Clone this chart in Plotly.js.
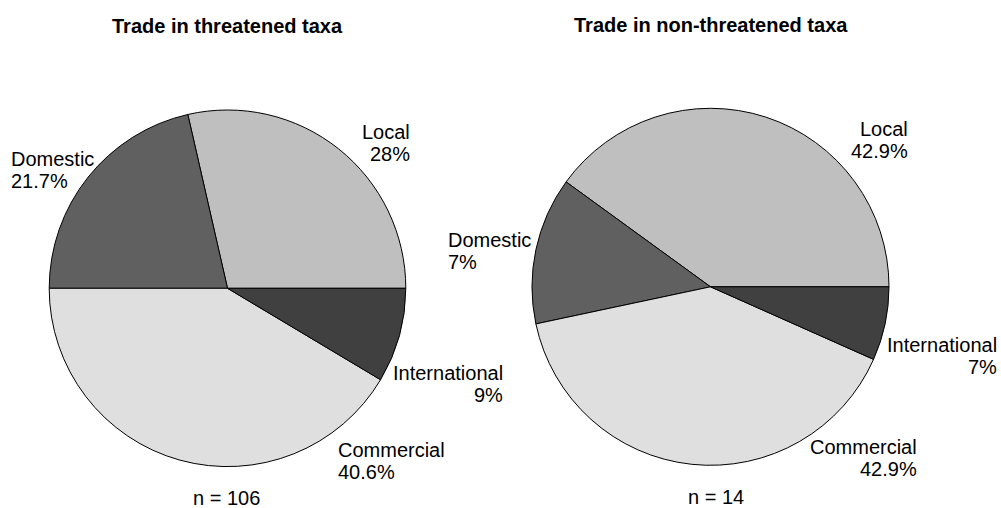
<!DOCTYPE html>
<html><head><meta charset="utf-8">
<script src="https://cdn.plot.ly/plotly-3.0.1.min.js"></script>
<style>html,body{margin:0;padding:0;background:#fff}#chart{width:1001px;height:508px}</style>
</head><body><div id="chart"></div>
<script>
// ---- data ----
const categories = ['Local', 'Domestic', 'Commercial', 'International'];
const threatenedValues = [20, 15, 29, 6];
const nonThreatenedValues = [6, 2, 6, 1];
const threatenedPctLabels = ['28%', '21.7%', '40.6%', '9%'];
const nonThreatenedPctLabels = ['42.9%', '7%', '42.9%', '7%'];
const panelTitles = ['Trade in threatened taxa', 'Trade in non-threatened taxa'];
const sampleSizes = ['n = 106', 'n = 14'];

// ---- presentation ----
const W = 1001, H = 508;
const sliceColors = ['#bfbfbf', '#606060', '#dfdfdf', '#404040'];
const FONT = 'Liberation Sans, Arial, Helvetica, sans-serif';
const LINE_GAP = 22;

const panels = [
  {values: threatenedValues, pct: threatenedPctLabels, title: panelTitles[0], n: sampleSizes[0],
   cx: 227.5, cy: 288.3, r: 178.3, titleBase: 33.3, nBase: 504.6, nX: 226.5,
   labelPos: [{x: 410.5, side: 'right', base: 139.3}, {x: 11.7, side: 'left', base: 166},
              {x: 338, side: 'left', base: 456.7}, {x: 503.5, side: 'right', base: 380}]},
  {values: nonThreatenedValues, pct: nonThreatenedPctLabels, title: panelTitles[1], n: sampleSizes[1],
   cx: 710.5, cy: 286.8, r: 178.5, titleBase: 31.7, nBase: 504.3, nX: 715.5,
   labelPos: [{x: 908.3, side: 'right', base: 136}, {x: 448.3, side: 'left', base: 246.7},
              {x: 916.7, side: 'right', base: 454}, {x: 996.7, side: 'right', base: 351.7}]}
];

const px = x => x / W;
const py = y => 1 - y / H;
const center = base => base - 6.9;

const traces = [];
const annotations = [];
panels.forEach(p => {
  const total = p.values.reduce((a, b) => a + b, 0);
  // Plotly (counterclockwise) ends the first slice at `rotation`; start it at 3 o'clock instead
  const rot = 90 - 360 * p.values[0] / total;
  traces.push({
    type: 'pie', values: p.values, labels: categories, sort: false,
    direction: 'counterclockwise', rotation: rot,
    marker: {colors: sliceColors, line: {color: '#000', width: 1}},
    textinfo: 'none', hoverinfo: 'none', showlegend: false, automargin: false,
    domain: {x: [px(p.cx - p.r), px(p.cx + p.r)], y: [py(p.cy + p.r), py(p.cy - p.r)]}
  });
  annotations.push({text: '<b>' + p.title + '</b>', xref: 'paper', yref: 'paper',
    x: px(p.cx), y: py(center(p.titleBase)), xanchor: 'center', yanchor: 'middle',
    showarrow: false, borderpad: 0, font: {family: FONT, size: 20, color: '#000'}});
  annotations.push({text: p.n, xref: 'paper', yref: 'paper',
    x: px(p.nX), y: py(center(p.nBase)), xanchor: 'center', yanchor: 'middle',
    showarrow: false, borderpad: 0, font: {family: FONT, size: 20, color: '#000'}});
  categories.forEach((c, i) => {
    const lp = p.labelPos[i];
    const ax = lp.side === 'left' ? lp.x - 1.5 : lp.x + 0.8;
    [c, p.pct[i]].forEach((t, k) => {
      annotations.push({text: t, xref: 'paper', yref: 'paper',
        x: px(ax), y: py(center(lp.base + k * LINE_GAP)),
        xanchor: lp.side, yanchor: 'middle', align: lp.side,
        showarrow: false, borderpad: 0, font: {family: FONT, size: 20, color: '#000'}});
    });
  });
});

Plotly.newPlot('chart', traces, {
  width: W, height: H, margin: {l: 0, r: 0, t: 0, b: 0},
  paper_bgcolor: '#fff', plot_bgcolor: '#fff', annotations: annotations
}, {staticPlot: true, displayModeBar: false});
</script></body></html>
